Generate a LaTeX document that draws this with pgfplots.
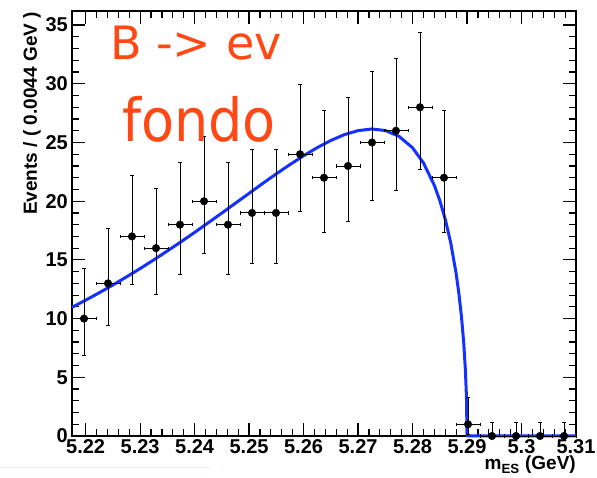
\documentclass[border=0pt]{standalone}
\usepackage{pgfplots}
\pgfplotsset{compat=1.18}
\usepackage{fontspec}
\setmainfont{Liberation Sans}
\newfontfamily\annfont{DejaVu Sans}
\definecolor{fitblue}{RGB}{20,50,255}
\definecolor{annred}{RGB}{255,72,20}
\definecolor{cyanline}{RGB}{205,255,240}

\pgfplotstableread{
x        y   ex      ep    em
5.21970  10  0.0022  4.27  3.11
5.22411  13  0.0022  4.69  3.56
5.22851  17  0.0022  5.20  4.08
5.23292  16  0.0022  5.08  3.95
5.23732  18  0.0022  5.32  4.20
5.24173  20  0.0022  5.54  4.43
5.24613  18  0.0022  5.32  4.20
5.25054  19  0.0022  5.43  4.32
5.25494  19  0.0022  5.43  4.32
5.25935  24  0.0022  5.96  4.86
5.26375  22  0.0022  5.76  4.65
5.26815  23  0.0022  5.86  4.76
5.27256  25  0.0022  6.06  4.96
5.27696  26  0.0022  6.16  5.06
5.28137  28  0.0022  6.35  5.26
5.28577  22  0.0022  5.76  4.65
5.29018  1   0.0022  2.30  0.83
5.29458  0   0.0022  1.15  0.00
5.29899  0   0.0022  1.15  0.00
5.30339  0   0.0022  1.15  0.00
5.30780  0   0.0022  1.15  0.00
}\datatable

\begin{document}
\begin{tikzpicture}
\path[use as bounding box] (-72pt,-42pt) rectangle (525pt,436pt);
\draw[cyanline, line width=1pt] (-72pt,-32pt) -- (138pt,-32pt);
\begin{axis}[
  scale only axis, width=504pt, height=425pt,
  xmin=5.2175, xmax=5.31, ymin=0, ymax=36.2,
  clip=false,
  axis line style={line width=1.6pt},
  xtick={5.22,5.23,5.24,5.25,5.26,5.27,5.28,5.29,5.30,5.31},
  xticklabels={5.22,5.23,5.24,5.25,5.26,5.27,5.28,5.29,5.3,5.31},
  ytick={0,5,10,15,20,25,30,35},
  minor x tick num=4, minor y tick num=4,
  major tick length=13pt, minor tick length=7pt,
  tick style={line width=1.2pt, black},
  tick align=inside,
  xtick pos=both, ytick pos=both,
  xticklabel pos=left, yticklabel pos=left,
  /pgf/number format/assume math mode=true,
  ticklabel style={font=\bfseries\fontsize{20}{20}\selectfont, inner sep=0pt},
  xticklabel style={anchor=north, yshift=-3pt},
  yticklabel style={anchor=east, xshift=-4pt},
  xlabel={\bfseries m\textsubscript{ES} (GeV)},
  ylabel={\bfseries Events / ( 0.0044 GeV )},
  every axis x label/.style={at={(axis description cs:1,0)}, anchor=north east, yshift=-20pt, inner sep=0pt, font=\bfseries\fontsize{19}{19}\selectfont},
  every axis y label/.style={at={(axis description cs:-0.0972,0.998)}, anchor=north east, rotate=90, inner sep=0pt, font=\bfseries\fontsize{19}{19}\selectfont},
]
\addplot[fitblue, line width=3pt, line join=round] coordinates {
(5.2175,10.96) (5.2200,11.57) (5.2225,12.20) (5.2250,12.86) (5.2275,13.55)
(5.2300,14.26) (5.2325,15.00) (5.2350,15.76) (5.2375,16.54) (5.2400,17.34)
(5.2425,18.16) (5.2450,18.99) (5.2475,19.83) (5.2500,20.67) (5.2525,21.51)
(5.2550,22.33) (5.2575,23.12) (5.2600,23.87) (5.2625,24.56) (5.2650,25.17)
(5.2675,25.67) (5.2700,26.01) (5.2725,26.15) (5.2750,26.02) (5.2775,25.53)
(5.2800,24.55) (5.2820,23.26) (5.2840,21.35) (5.2850,20.06) (5.2860,18.47)
(5.2870,16.47) (5.2880,13.84) (5.2885,12.16) (5.2890,10.07) (5.2894,7.90)
(5.2897,5.62) (5.2899,3.27) (5.2900,0) (5.3100,0)
};
\addplot[black, only marks, mark=*, mark size=3.8pt,
  error bars/.cd, x dir=both, x explicit, y dir=both, y explicit,
  error bar style={line width=0.9pt, black},
  error mark options={rotate=90, mark size=1.6pt, black, line width=0.9pt}]
  table[x=x, y=y, x error=ex, y error plus=ep, y error minus=em] {\datatable};
\node[anchor=base west, annred, inner sep=0pt, font=\annfont\fontsize{46}{46}\selectfont] at (rel axis cs:0.0754,0.885) {B -> ev};
\node[anchor=base west, annred, inner sep=0pt, yscale=1.1, font=\annfont\fontsize{54}{54}\selectfont] at (rel axis cs:0.0992,0.692) {fondo};
\end{axis}
\end{tikzpicture}
\end{document}
